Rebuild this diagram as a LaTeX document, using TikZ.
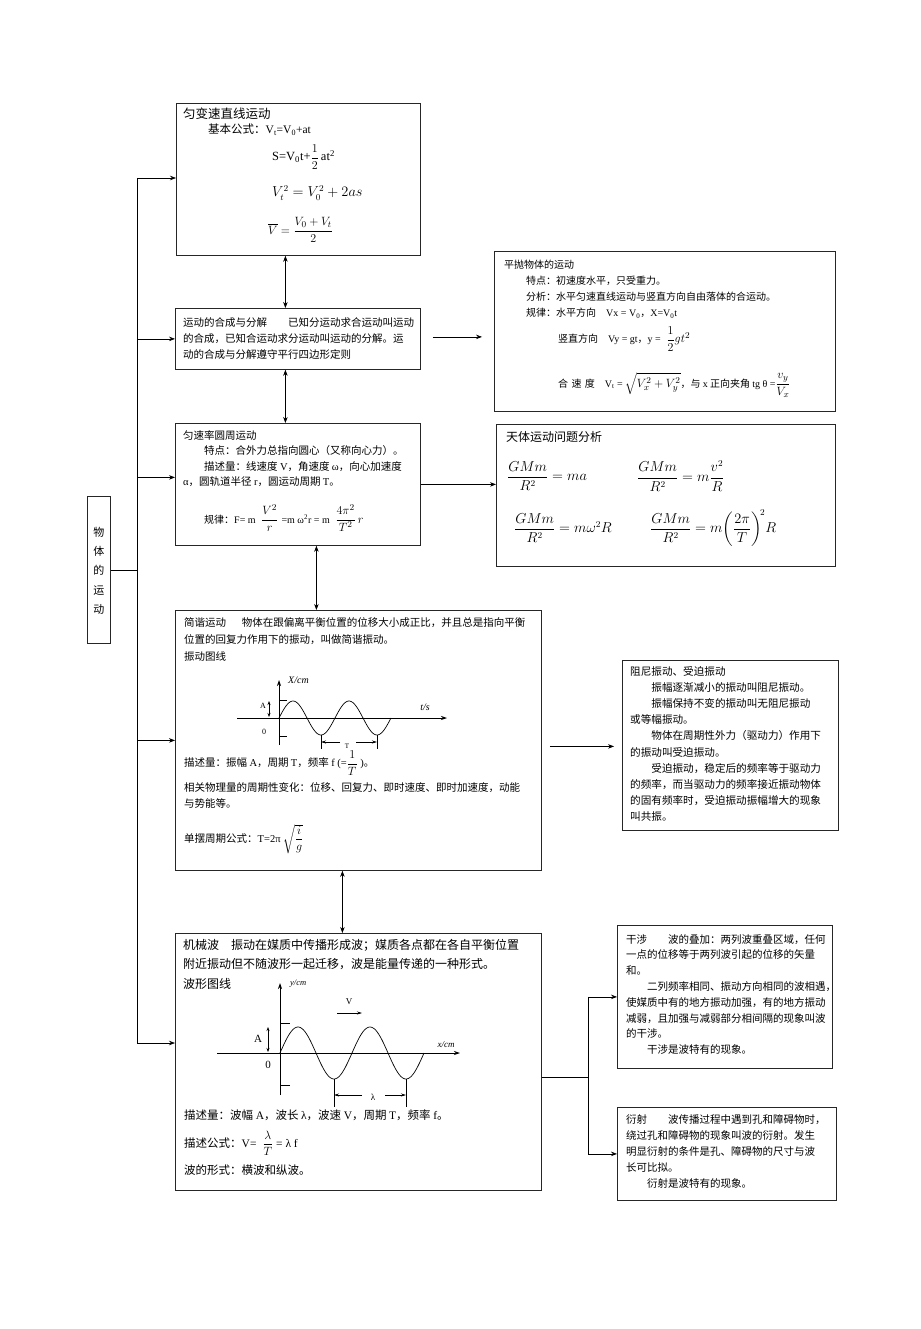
\documentclass[tikz,border=0pt]{standalone}
\usepackage{amsmath}
\usepackage[no-math]{fontspec}
\setmainfont{Noto Sans CJK SC}
\newfontfamily\tms{Liberation Serif}
\usetikzlibrary{arrows.meta,calc,positioning}

\newcommand{\en}[1]{{\tms #1}}

\tikzset{
  box/.style={draw=black!85, line width=0.8pt, anchor=north west, inner sep=0pt},
  txt/.style={anchor=north west, inner sep=0pt, align=left, font=\fontsize{10.5}{16}\selectfont},
  eq/.style={anchor=west, inner sep=0pt, font=\fontsize{11}{13}\selectfont},
  line/.style={line width=0.7pt},
  arr/.style={-{Stealth[length=6pt,width=4.5pt]}, line width=0.7pt},
  darr/.style={{Stealth[length=6pt,width=4.5pt]}-{Stealth[length=6pt,width=4.5pt]}, line width=0.7pt},
  axis/.style={-{Stealth[length=6pt,width=4pt]}, line width=0.8pt},
  wave/.style={line width=0.7pt},
  small/.style={inner sep=0pt, font=\fontsize{8}{9}\selectfont}
}

\begin{document}
\begin{tikzpicture}[x=1pt, y=-1pt]
    \fill[white] (0,0) rectangle (920,1329);
    \useasboundingbox (0,0) rectangle (920,1329);

    % boxes
    \node[box, minimum width=23pt, minimum height=147pt] (root) at (87,496) {};
    \node[box, minimum width=244pt, minimum height=152pt] (yb) at (176,103) {};
    \node[box, minimum width=245pt, minimum height=61pt] (hc) at (175,308) {};
    \node[box, minimum width=341pt, minimum height=160pt] (pp) at (494,251) {};
    \node[box, minimum width=245pt, minimum height=122pt] (yz) at (175,423) {};
    \node[box, minimum width=339pt, minimum height=142pt] (tt) at (496,424) {};
    \node[box, minimum width=366pt, minimum height=260pt] (jy) at (175,610) {};
    \node[box, minimum width=216pt, minimum height=170pt] (zn) at (622,660) {};
    \node[box, minimum width=366pt, minimum height=257pt] (jx) at (175,933) {};
    \node[box, minimum width=215pt, minimum height=143pt] (gs) at (617,925) {};
    \node[box, minimum width=219pt, minimum height=93pt] (ys) at (617,1107) {};

    % root
    \node[txt, anchor=north, align=center, font=\fontsize{11}{19.2}\selectfont] (root-t) at (root.north |- 0,527) {物\\体\\的\\运\\动};

    % 匀变速直线运动
    \node[txt, font=\fontsize{12.5}{15}\selectfont] (yb-t) at (183,108) {匀变速直线运动};
    \node[eq, font=\fontsize{11.5}{14}\selectfont] (yb-f0) at (208,130) {基本公式：\en{V\textsubscript{t}=V\textsubscript{0}+at}};
    \node[eq, font=\fontsize{12.5}{14}\selectfont] (yb-f1) at (272,157) {\en{S=V\textsubscript{0}t+}$\dfrac{1}{2}$\,\en{at\textsuperscript{2}}};
    \node[eq, font=\fontsize{13.5}{15}\selectfont] (yb-f2) at (272,193) {$V_t^2 = V_0^2 + 2as$};
    \node[eq, font=\fontsize{12.5}{14}\selectfont] (yb-f3) at (268,230) {$\overline{V} = \dfrac{V_0+V_t}{2}$};

    % 运动的合成与分解
    \node[txt] (hc-t) at (183,317) {运动的合成与分解\hspace{2em}已知分运动求合运动叫运动\\的合成，已知合运动求分运动叫运动的分解。运\\动的合成与分解遵守平行四边形定则};

    % 平抛物体的运动
    \node[txt, font=\fontsize{10}{16}\selectfont] (pp-t) at (504,260) {平抛物体的运动\\
      \hspace*{2.2em}特点：初速度水平，只受重力。\\
      \hspace*{2.2em}分析：水平匀速直线运动与竖直方向自由落体的合运动。\\
      \hspace*{2.2em}规律：水平方向\hspace{1em}\en{Vx = V\textsubscript{0}}，\en{X=V\textsubscript{0}t}};
    \node[eq, font=\fontsize{10}{12}\selectfont] (pp-f1) at (558,339) {竖直方向\hspace{1em}\en{Vy = gt}，\en{y =} {\fontsize{13}{15}\selectfont$\;\dfrac{1}{2}gt^2$}};
    \node[eq, font=\fontsize{10}{12}\selectfont] (pp-f2) at (558,385) {合\,\,速\,\,度\hspace{1em}\en{V\textsubscript{t} =} {\fontsize{12.5}{14}\selectfont$\sqrt{V_x^2+V_y^2}$}，与 \en{x} 正向夹角 \en{tg θ =}{\fontsize{12.5}{14}\selectfont$\dfrac{v_y}{V_x}$}};

    % 匀速率圆周运动
    \node[txt, font=\fontsize{10.5}{15.5}\selectfont] (yz-t) at (183,430) {匀速率圆周运动\\
      \hspace*{2em}特点：合外力总指向圆心（又称向心力）。\\
      \hspace*{2em}描述量：线速度 \en{V}，角速度 \en{ω}，向心加速度\\
      \en{α}，圆轨道半径 \en{r}，圆运动周期 \en{T}。};
    \node[eq, font=\fontsize{10}{12}\selectfont] (yz-f) at (204,518) {规律：\en{F= m} {\fontsize{13}{15}\selectfont$\;\dfrac{V^2}{r}\;$}\en{=m ω\textsuperscript{2}r = m} {\fontsize{13}{15}\selectfont$\;\dfrac{4\pi^2}{T^2}\,r$}};

    % 天体运动问题分析
    \node[txt, font=\fontsize{12}{15}\selectfont] (tt-t) at (506,431) {天体运动问题分析};
    \node[eq, font=\fontsize{13.5}{16}\selectfont] (tt-f1) at (507,476) {$\dfrac{GMm}{R^2}=ma$};
    \node[eq, font=\fontsize{13.5}{16}\selectfont] (tt-f2) at (637,476) {$\dfrac{GMm}{R^2}=m\dfrac{v^2}{R}$};
    \node[eq, font=\fontsize{13.5}{16}\selectfont] (tt-f3) at (514,528) {$\dfrac{GMm}{R^2}=m\omega^2R$};
    \node[eq, font=\fontsize{13.5}{16}\selectfont] (tt-f4) at (650,528) {$\dfrac{GMm}{R^2}=m\biggl(\dfrac{2\pi}{T}\biggr)^{\!2}R$};

    % 简谐运动
    \node[txt, font=\fontsize{10.5}{17}\selectfont] (jy-t) at (184,617) {简谐运动\hspace{1.5em}物体在跟偏离平衡位置的位移大小成正比，并且总是指向平衡\\位置的回复力作用下的振动，叫做简谐振动。\\振动图线};
    \draw[axis] (237,718) -- (447,718);
    \draw[axis] (279,745) -- (279,680);
    \draw[line] (279,700) -- (287,700);
    \draw[line] (279,736) -- (287,736);
    \draw[wave] plot[domain=0:112, samples=80] ({279+\x}, {718-17*sin(\x/56*360)});
    \draw[{Stealth[length=4pt,width=3pt]}-{Stealth[length=4pt,width=3pt]}, line width=0.6pt] (269,701) -- (269,717);
    \node[small, font=\fontsize{8}{9}\tms] (jy-a) at (263,706) {A};
    \node[small, font=\fontsize{8}{9}\tms] (jy-o) at (264,732) {0};
    \node[small, font=\fontsize{10}{12}\tms\itshape, anchor=west] (jy-x) at (288,680) {X/cm};
    \node[small, font=\fontsize{10}{12}\tms\itshape] (jy-s) at (425,707) {t/s};
    \draw[line] (321,735) -- (321,749);
    \draw[line] (377,735) -- (377,749);
    \draw[arr, -{Stealth[length=5pt,width=3pt]}] (340,742) -- (321,742);
    \draw[arr, -{Stealth[length=5pt,width=3pt]}] (356,742) -- (377,742);
    \node[small, font=\fontsize{7}{8}\tms] (jy-T) at (347,746) {T};
    \node[eq, font=\fontsize{10.5}{12}\selectfont] (jy-d) at (184,763) {描述量：振幅 \en{A}，周期 \en{T}，频率 \en{f (=}{\fontsize{12}{14}\selectfont$\dfrac{1}{T}$}\en{ )}。};
    \node[txt, font=\fontsize{10.5}{16.5}\selectfont] (jy-r) at (184,782) {相关物理量的周期性变化：位移、回复力、即时速度、即时加速度，动能\\与势能等。};
    \node[eq, font=\fontsize{10.5}{12}\selectfont] (jy-p) at (184,839) {单摆周期公式：\en{T=2π} {\fontsize{12}{14}\selectfont$\sqrt{\dfrac{i}{g}}$}};

    % 阻尼振动、受迫振动
    \node[txt, font=\fontsize{10.6}{16.2}\selectfont] (zn-t) at (630,666) {阻尼振动、受迫振动\\
      \hspace*{2em}振幅逐渐减小的振动叫阻尼振动。\\
      \hspace*{2em}振幅保持不变的振动叫无阻尼振动\\
      或等幅振动。\\
      \hspace*{2em}物体在周期性外力（驱动力）作用下\\
      的振动叫受迫振动。\\
      \hspace*{2em}受迫振动，稳定后的频率等于驱动力\\
      的频率，而当驱动力的频率接近振动物体\\
      的固有频率时，受迫振动振幅增大的现象\\
      叫共振。};

    % 机械波
    \node[txt, font=\fontsize{12}{19.5}\selectfont] (jx-t) at (183,939) {机械波\hspace{1em}振动在媒质中传播形成波；媒质各点都在各自平衡位置\\附近振动但不随波形一起迁移，波是能量传递的一种形式。\\波形图线};
    \draw[axis] (217,1053) -- (460,1053);
    \draw[axis] (280,1095) -- (280,983);
    \draw[line] (280,1023) -- (290,1023);
    \draw[line] (280,1085) -- (290,1085);
    \draw[wave] plot[domain=0:144, samples=100] ({280+\x}, {1053-26*sin(\x/72*360)});
    \draw[{Stealth[length=4pt,width=3pt]}-{Stealth[length=4pt,width=3pt]}, line width=0.6pt] (268,1027) -- (268,1052);
    \node[small, font=\fontsize{11}{12}\tms] (jx-a) at (258,1039) {A};
    \node[small, font=\fontsize{11}{12}\tms] (jx-o) at (268,1065) {0};
    \node[small, font=\fontsize{8.5}{10}\tms\itshape, anchor=west] (jx-y) at (290,984) {y/cm};
    \node[small, font=\fontsize{9}{10}\tms\itshape] (jx-x) at (446,1045) {x/cm};
    \node[small, font=\fontsize{9}{10}\tms] (jx-v) at (349,1002) {V};
    \draw[arr, -{Stealth[length=5pt,width=3pt]}] (337,1013) -- (362,1013);
    \draw[line] (334,1079) -- (334,1107);
    \draw[line] (406,1079) -- (406,1107);
    \draw[arr, -{Stealth[length=5pt,width=3pt]}] (362,1095) -- (334,1095);
    \draw[arr, -{Stealth[length=5pt,width=3pt]}] (385,1095) -- (406,1095);
    \node[small, font=\fontsize{9}{10}\tms] (jx-l) at (373,1097) {λ};
    \node[eq, font=\fontsize{11.5}{13}\selectfont] (jx-d) at (184,1115) {描述量：波幅 \en{A}，波长 \en{λ}，波速 \en{V}，周期 \en{T}，频率 \en{f}。};
    \node[eq, font=\fontsize{11.5}{13}\selectfont] (jx-f) at (184,1143) {描述公式：\en{V=} {\fontsize{12.5}{14}\selectfont$\;\dfrac{\lambda}{T}$}\en{ = λ f}};
    \node[eq, font=\fontsize{11.5}{13}\selectfont] (jx-k) at (184,1170) {波的形式：横波和纵波。};

    % 干涉
    \node[txt, font=\fontsize{10.5}{15.8}\selectfont] (gs-t) at (626,934) {干涉\hspace{2em}波的叠加：两列波重叠区域，任何\\
      一点的位移等于两列波引起的位移的矢量\\
      和。\\
      \hspace*{2em}二列频率相同、振动方向相同的波相遇，\\
      使媒质中有的地方振动加强，有的地方振动\\
      减弱，且加强与减弱部分相间隔的现象叫波\\
      的干涉。\\
      \hspace*{2em}干涉是波特有的现象。};

    % 衍射
    \node[txt, font=\fontsize{10.5}{16}\selectfont] (ys-t) at (626,1114) {衍射\hspace{2em}波传播过程中遇到孔和障碍物时，\\
      绕过孔和障碍物的现象叫波的衍射。发生\\
      明显衍射的条件是孔、障碍物的尺寸与波\\
      长可比拟。\\
      \hspace*{2em}衍射是波特有的现象。};

    % trunk
    \coordinate (top) at (137,178);
    \coordinate (bot) at (137,1043);
    \draw[line] (top) -- (bot);
    \draw[line] (root.east) -- (root.east -| top);
    \draw[arr] (top) -- (top -| yb.west);
    \draw[arr] (top |- hc.west) -- (hc.west);
    \draw[arr] ($(top |- yz.west)+(0,-7)$) -- ($(yz.west)+(0,-7)$);
    \draw[arr] (top |- jy.west) -- (jy.west);
    \draw[arr] (bot) -- (bot -| jx.west);

    % between boxes
    \draw[darr] ([xshift=-13pt]yb.south) -- ([xshift=-13pt]yb.south |- hc.north);
    \draw[darr] ([xshift=-12.5pt]hc.south) -- ([xshift=-12.5pt]hc.south |- yz.north);
    \draw[darr] ([xshift=18.5pt]yz.south) -- ([xshift=18.5pt]yz.south |- jy.north);
    \draw[darr] ([xshift=-16pt]jy.south) -- ([xshift=-16pt]jy.south |- jx.north);

    % to the right
    \draw[arr, shorten <=12pt, shorten >=12pt] ($(hc.east)+(0,-2)$) -- ($(hc.east -| pp.west)+(0,-2)$);
    \draw[arr] (yz.east) -- (yz.east -| tt.west);
    \draw[arr, shorten <=8pt, shorten >=8pt] ($(jy.east)+(0,6)$) -- ($(jy.east -| zn.west)+(0,6)$);
    \coordinate (fork) at (588,1077);
    \draw[line] (fork -| jx.east) -- (fork);
    \draw[line] (fork |- gs.west) -- (fork |- ys.west);
    \draw[arr] (fork |- gs.west) -- (gs.west);
    \draw[arr] (fork |- ys.west) -- (ys.west);
\end{tikzpicture}
\end{document}
